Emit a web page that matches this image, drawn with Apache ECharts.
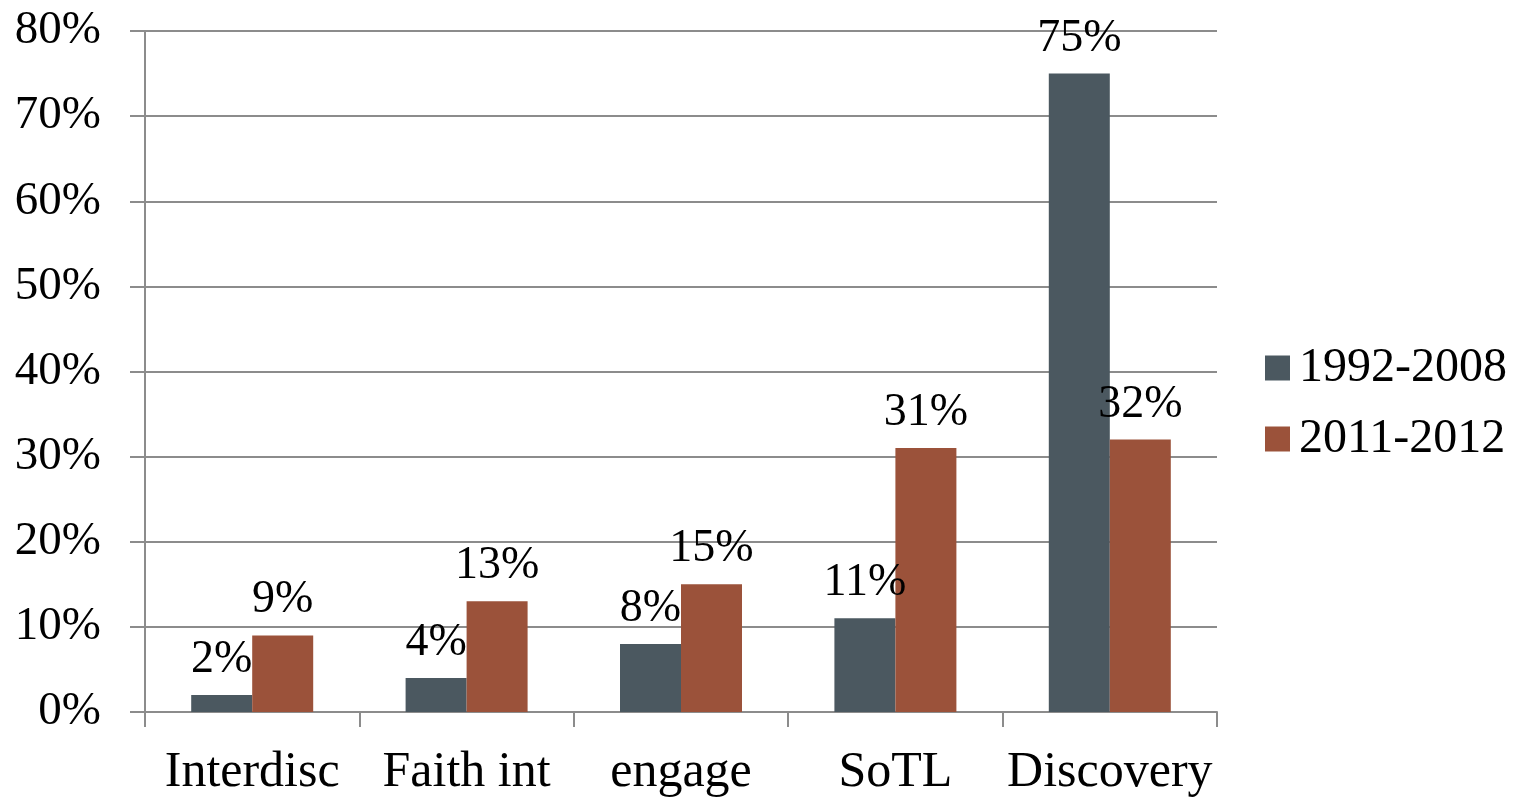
<!DOCTYPE html>
<html>
<head>
<meta charset="utf-8">
<script src="https://cdn.jsdelivr.net/npm/echarts@6/dist/echarts.min.js"></script>
<style>
  html, body { margin: 0; padding: 0; background: #fff; }
  #chart { width: 1522px; height: 798px; }
</style>
</head>
<body>
<div id="chart"></div>
<script>
  // categories and values (percent)
  const categories = ['Interdisc', 'Faith int', 'engage', 'SoTL', 'Discovery'];
  const series1992 = [2, 4, 8, 11, 75];
  const series2011 = [9, 13, 15, 31, 32];
  const seriesNames = ['1992-2008', '2011-2012'];

  const font = '"Liberation Serif", "DejaVu Serif", serif';
  const gridColor = '#8c8c8c';

  let chart = echarts.init(document.getElementById('chart'));

  let labelOpt = {
    show: true,
    position: 'top',
    distance: 12,
    formatter: p => p.value + '%',
    fontFamily: font,
    fontSize: 46,
    color: '#000'
  };

  chart.setOption({
    animation: false,
    grid: { left: 145, right: 305, top: 31, bottom: 85 },
    legend: {
      orient: 'vertical',
      left: 1260,
      top: 338,
      itemWidth: 25,
      itemHeight: 25,
      itemGap: 21,
      icon: 'rect',
      textStyle: { fontFamily: font, fontSize: 48, color: '#000', lineHeight: 50, padding: [0, 0, 0, 4] },
      data: seriesNames
    },
    xAxis: {
      type: 'category',
      data: categories,
      axisLine: { lineStyle: { color: gridColor, width: 2 } },
      axisTick: { show: true, interval: 0, length: 15, lineStyle: { color: gridColor, width: 2 } },
      axisLabel: { interval: 0, margin: 36, fontFamily: font, fontSize: 50, color: '#000' }
    },
    yAxis: {
      type: 'value',
      min: 0,
      max: 80,
      interval: 10,
      axisLine: { show: true, lineStyle: { color: gridColor, width: 2 } },
      axisTick: { show: true, length: 15, lineStyle: { color: gridColor, width: 2 } },
      splitLine: { lineStyle: { color: gridColor, width: 2 } },
      axisLabel: { margin: 44, formatter: '{value}%', fontFamily: font, fontSize: 47, color: '#000' }
    },
    series: [
      {
        name: seriesNames[0],
        type: 'bar',
        data: series1992,
        barWidth: 61,
        barGap: '0%',
        itemStyle: { color: '#4b5860' },
        label: labelOpt
      },
      {
        name: seriesNames[1],
        type: 'bar',
        data: series2011,
        barWidth: 61,
        itemStyle: { color: '#9b523a' },
        label: labelOpt
      }
    ]
  });
</script>
</body>
</html>
